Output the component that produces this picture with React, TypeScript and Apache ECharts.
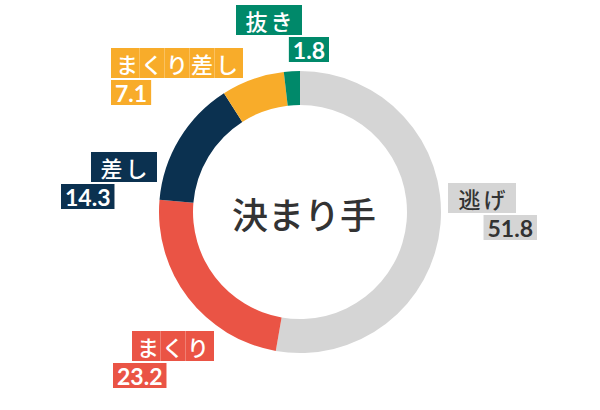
import { useEffect, useRef } from 'react'
import * as echarts from 'echarts'

const names = ['逃げ', 'まくり', '差し', 'まくり差し', '抜き']
const values = [51.8, 23.2, 14.3, 7.1, 1.8]
const colors = ['#d5d5d5', '#ea5445', '#0b3150', '#f8ac2a', '#00896a']
const textColors = ['#333333', '#ffffff', '#ffffff', '#ffffff', '#ffffff']
const centerTitle = '決まり手'

// label block placement: left, top, block width, name box width, name align, value align
const labelSpots: [number, number, number, number, string, string][] = [
  [448, 183, 89, 68, 'left', 'right'],
  [113, 331, 101, 82, 'right', 'left'],
  [61, 152, 96, 66, 'right', 'left'],
  [111, 48, 132, 132, 'left', 'left'],
  [236, 5, 93, 66, 'left', 'right'],
]

const NAME_FONT = 22
const LETTER_GAP = 3

export default function App() {
  const chartRef = useRef<HTMLDivElement>(null)

  useEffect(() => {
    if (!chartRef.current) return
    const chart = echarts.init(chartRef.current, null, { renderer: 'svg' })

    const data = names.map((name, i) => {
      const [, , , boxW, nameAlign, valueAlign] = labelSpots[i]
      const chars = Array.from(name)
      const outer = (boxW - chars.length * (NAME_FONT + LETTER_GAP)) / 2
      const base = {
        fontFamily: 'Noto Sans CJK JP',
        fontWeight: 500,
        fontSize: NAME_FONT,
        color: textColors[i],
        backgroundColor: colors[i],
        height: 30,
        lineHeight: 30,
        align: nameAlign,
      }
      const half = LETTER_GAP / 2
      const rich: Record<string, any> = {
        v: {
          fontFamily: 'Lato',
          fontWeight: 'bold',
          fontSize: 23,
          color: textColors[i],
          backgroundColor: colors[i],
          height: 25,
          lineHeight: 29,
          padding: [0, 4],
          align: valueAlign,
        },
      }
      chars.forEach((_, k) => {
        rich['c' + k] = {
          ...base,
          padding: [0, k === chars.length - 1 ? half + outer : half, 0, k === 0 ? half + outer : half],
        }
      })
      const nameLine = chars.map((ch, k) => `{c${k}|${ch}}`).join('')
      return {
        name,
        value: values[i],
        itemStyle: { color: colors[i] },
        label: {
          rich,
          formatter: `${nameLine}\n{v|${values[i].toFixed(1)}}`,
        },
      }
    })

    const option: echarts.EChartsOption = {
      animation: false,
      graphic: [
        {
          type: 'text',
          x: 304,
          y: 213,
          style: {
            text: centerTitle,
            fontFamily: 'Noto Sans CJK JP',
            fontWeight: 500,
            fontSize: 36,
            fill: '#333333',
            textAlign: 'center',
            textVerticalAlign: 'middle',
          },
        },
      ],
      series: [
        {
          type: 'pie',
          center: [300, 212],
          radius: [107, 141],
          startAngle: 90,
          clockwise: true,
          silent: true,
          emphasis: { disabled: true },
          labelLine: { show: false },
          label: {
            show: true,
            position: 'outside',
          },
          labelLayout: (params: any) => {
            const [x, y, w] = labelSpots[params.dataIndex]
            return { x, y, width: w, align: 'left', verticalAlign: 'top' }
          },
          data,
        },
      ],
    }

    chart.setOption(option)
    return () => {
      chart.dispose()
    }
  }, [])

  return (
    <div
      ref={chartRef}
      style={{ position: 'fixed', left: 0, top: 0, width: '600px', height: '410px', background: '#fff' }}
    />
  )
}
